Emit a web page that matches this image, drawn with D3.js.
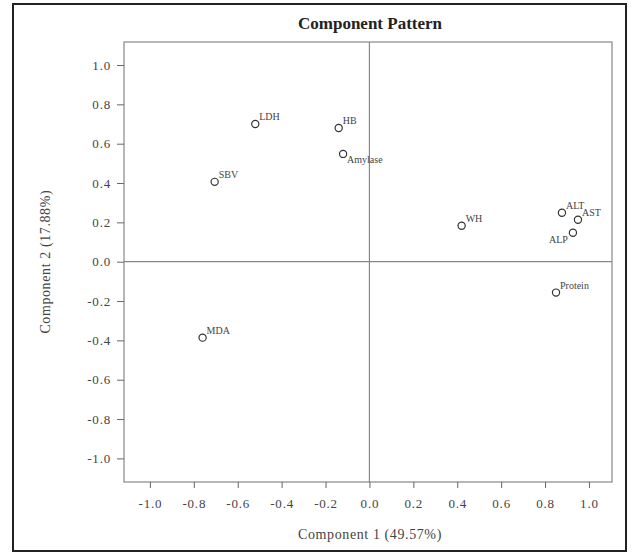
<!DOCTYPE html>
<html><head><meta charset="utf-8">
<script src="https://cdn.jsdelivr.net/npm/d3@7"></script>
<style>body{margin:0;background:#fff}</style>
</head><body>
<svg id="c" width="635" height="557"></svg>
<script>
const names = ["LDH","HB","Amylase","SBV","WH","ALT","AST","ALP","Protein","MDA"];
const comp1 = [-0.52,-0.14,-0.12,-0.705,0.42,0.877,0.95,0.927,0.85,-0.76];
const comp2 = [0.70,0.68,0.548,0.406,0.183,0.249,0.213,0.147,-0.157,-0.386];
const tickVals = [-1.0,-0.8,-0.6,-0.4,-0.2,0.0,0.2,0.4,0.6,0.8,1.0];
const title = "Component Pattern";
const xTitle = "Component 1 (49.57%)";
const yTitle = "Component 2 (17.88%)";

const placement = {"Amylase":"se","ALP":"w"};

const svg = d3.select("#c");
const font = "'Liberation Serif','DejaVu Serif',serif";
svg.append("rect").attr("x",13).attr("y",4).attr("width",613).attr("height",547)
  .attr("fill","#fff").attr("stroke","#222").attr("stroke-width",2);

const L=124,R=612,T=42,B=482;
const x = d3.scaleLinear().domain([-1.118,1.105]).range([L,R]);
const y = d3.scaleLinear().domain([-1.12,1.117]).range([B,T]);

svg.append("rect").attr("x",L).attr("y",T).attr("width",R-L).attr("height",B-T)
  .attr("fill","none").attr("stroke","#888").attr("stroke-width",1.2);
svg.append("line").attr("x1",x(0)).attr("x2",x(0)).attr("y1",T).attr("y2",B).attr("stroke","#888").attr("stroke-width",1.2);
svg.append("line").attr("x1",L).attr("x2",R).attr("y1",y(0)).attr("y2",y(0)).attr("stroke","#888").attr("stroke-width",1.2);

const fmt = d=> d3.format(".1f")(d).replace("−","-");
const xa = svg.append("g").attr("transform",`translate(0,${B})`)
  .call(d3.axisBottom(x).tickValues(tickVals).tickSize(6).tickPadding(11).tickFormat(fmt));
const ya = svg.append("g").attr("transform",`translate(${L},0)`)
  .call(d3.axisLeft(y).tickValues(tickVals).tickSize(7).tickPadding(6).tickFormat(fmt));
[xa,ya].forEach(a=>{
  a.select(".domain").remove();
  a.selectAll("line").attr("stroke","#666");
  a.selectAll("text").attr("font-family",font).attr("font-size",13).attr("letter-spacing",0.8).attr("fill","#444");
});

svg.append("text").attr("x",370).attr("y",29).attr("text-anchor","middle")
  .attr("font-family",font).attr("font-weight","bold").attr("font-size",17).attr("fill","#222").text(title);
svg.append("text").attr("x",370).attr("y",539).attr("text-anchor","middle")
  .attr("font-family",font).attr("font-size",14).attr("letter-spacing",0.6).attr("fill","#444").text(xTitle);
svg.append("text").attr("transform",`translate(50,${y(0)}) rotate(-90)`).attr("text-anchor","middle")
  .attr("font-family",font).attr("font-size",14).attr("letter-spacing",0.6).attr("fill","#444").text(yTitle);

const pts = names.map((n,i)=>({n,cx:comp1[i],cy:comp2[i]}));
const g = svg.append("g");
g.selectAll("circle").data(pts).join("circle")
  .attr("cx",d=>x(d.cx)).attr("cy",d=>y(d.cy)).attr("r",3.6)
  .attr("fill","none").attr("stroke","#333").attr("stroke-width",1.2);
g.selectAll("text").data(pts).join("text")
  .attr("x",d=>{const p=placement[d.n]; return x(d.cx)+(p==="w"?-5:4);})
  .attr("y",d=>{const p=placement[d.n]; return y(d.cy)+(p==="se"?9:(p==="w"?10:-4));})
  .attr("text-anchor",d=>placement[d.n]==="w"?"end":"start")
  .attr("font-family",font).attr("font-size",10).attr("fill","#444").text(d=>d.n);
</script>
</body></html>
